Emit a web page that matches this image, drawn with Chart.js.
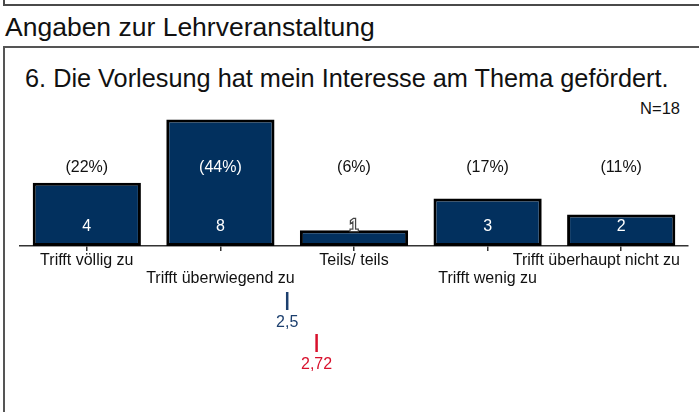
<!DOCTYPE html>
<html>
<head>
<meta charset="utf-8">
<script src="https://cdn.jsdelivr.net/npm/chart.js@4/dist/chart.umd.min.js"></script>
<style>
	body { margin: 0; background: #fff; font-family: Arial, "Liberation Sans", sans-serif; }
	#page { position: relative; width: 699px; height: 412px; overflow: hidden; }
	#prev { position: absolute; left: 3px; top: -10px; width: 720px; height: 12px; border: 2px solid #4a4a4a; }
	#head { position: absolute; left: 5px; top: 12px; font-size: 26.5px; color: #111; }
	#box { position: absolute; left: 3px; top: 46px; width: 720px; height: 400px; border: 2px solid #555; }
	#qtitle { position: absolute; left: 25px; top: 64px; font-size: 25.3px; color: #111; white-space: nowrap; }
	#nlabel { position: absolute; right: 19px; top: 99px; font-size: 16.5px; color: #111; }
	#chartWrap { position: absolute; left: 0; top: 0; width: 699px; height: 412px; }
</style>
</head>
<body>
<div id="page">
	<div id="prev"></div>
	<div id="head">Angaben zur Lehrveranstaltung</div>
	<div id="box"></div>
	<div id="qtitle">6. Die Vorlesung hat mein Interesse am Thema gefördert.</div>
	<div id="nlabel">N=18</div>
	<div id="chartWrap"><canvas id="result_chart" width="699" height="412"></canvas></div>
</div>
<script>
var categories = ['Trifft völlig zu', 'Trifft überwiegend zu', 'Teils/ teils', 'Trifft wenig zu', 'Trifft überhaupt nicht zu'];
var counts = [4, 8, 1, 3, 2];
var percents = ['(22%)', '(44%)', '(6%)', '(17%)', '(11%)'];
var means = [2.5, 2.72];
var meanLabels = ['2,5', '2,72'];
var meanColors = ['#1c3f6e', '#d8102c'];

var labelFont = '16px Arial, "Liberation Sans", sans-serif';

// percent row, count row, stagger of category labels, mean markers
var extraLabels = {
	id: 'extraLabels',
	afterDraw: function (chart) {
		var ctx = chart.ctx;
		var xs = chart.scales.x;
		var ys = chart.scales.y;
		var bars = chart.getDatasetMeta(0).data;
		var base = chart.chartArea.bottom;
		ctx.save();
		ctx.font = labelFont;
		ctx.textAlign = 'center';
		ctx.textBaseline = 'middle';

		var pctY = ys.getPixelForValue(4.95);
		var cntY = ys.getPixelForValue(1.2);
		bars.forEach(function (bar, i) {
			ctx.fillStyle = bar.y < pctY - 8 ? '#ffffff' : '#111111';
			ctx.fillText(percents[i], bar.x, pctY);

			if (bar.y > cntY - 8) {
				ctx.lineWidth = 2.5;
				ctx.strokeStyle = '#444';
				ctx.strokeText(String(counts[i]), bar.x, cntY);
			}
			ctx.fillStyle = '#ffffff';
			ctx.fillText(String(counts[i]), bar.x, cntY);
		});

		// category labels, alternating rows, kept inside the frame
		ctx.fillStyle = '#111111';
		categories.forEach(function (c, i) {
			var x = xs.getPixelForValue(i);
			var w = ctx.measureText(c).width;
			var right = chart.width - 19;
			if (x + w / 2 > right) x = right - w / 2;
			ctx.fillText(c, x, base + (i % 2 === 0 ? 15 : 33));
		});

		// mean markers
		means.forEach(function (m, k) {
			var x = xs.getPixelForValue(m - 1);
			var top = base + 46 + k * 42;
			ctx.strokeStyle = meanColors[k];
			ctx.lineWidth = 2.5;
			ctx.beginPath();
			ctx.moveTo(x, top);
			ctx.lineTo(x, top + 18);
			ctx.stroke();
			ctx.fillStyle = meanColors[k];
			ctx.fillText(meanLabels[k], x, top + 31);
		});
		ctx.restore();
	}
};

var config = {
	type: 'bar',
	data: {
		labels: categories,
		datasets: [{
			data: counts,
			backgroundColor: '#02305e',
			borderColor: '#000000',
			borderWidth: 3,
			borderSkipped: false,
			barPercentage: 0.81,
			categoryPercentage: 1
		}]
	},
	options: {
		responsive: false,
		animation: false,
		layout: {
			padding: { left: 20, right: 11, top: 88, bottom: 161 }
		},
		plugins: {
			legend: { display: false },
			tooltip: { enabled: false }
		},
		scales: {
			x: {
				grid: { drawOnChartArea: false, drawTicks: true, tickLength: 5, offset: false, color: '#333', lineWidth: 1.5 },
				border: { display: true, color: '#333', width: 1.5 },
				ticks: { display: false }
			},
			y: {
				display: false,
				min: 0,
				max: 10
			}
		}
	},
	plugins: [extraLabels]
};

var chart = new Chart(document.getElementById('result_chart'), config);
</script>
</body>
</html>
